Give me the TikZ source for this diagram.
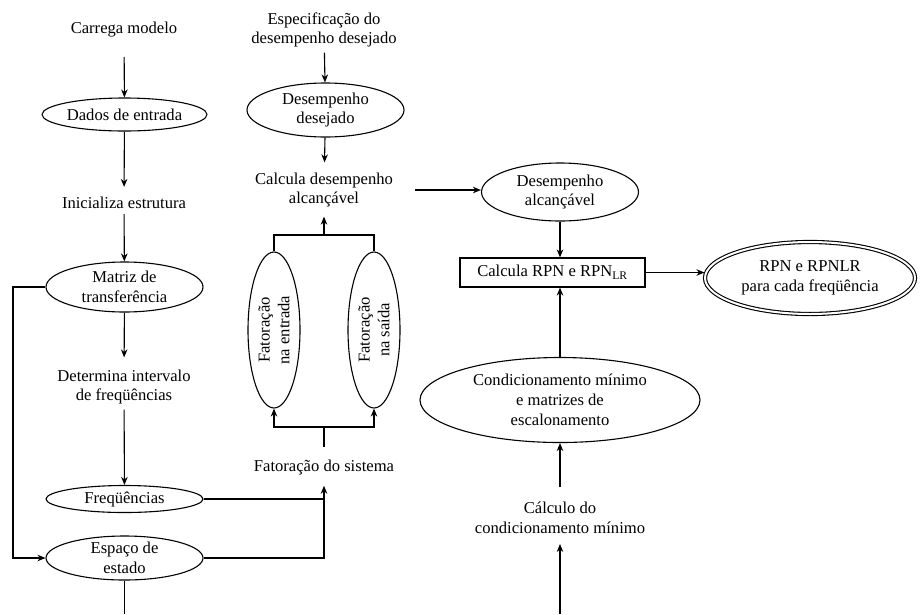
\documentclass[tikz,border=0pt]{standalone}
\usepackage{fontspec}
\setmainfont{Liberation Serif}
\usetikzlibrary{shapes.geometric,arrows.meta}
\begin{document}
\begin{tikzpicture}[x=1pt,y=-1pt,
  every node/.style={font=\fontsize{16.6}{19.8}\selectfont, align=center},
  lbl/.style={inner sep=5pt},
  oval/.style={draw, ellipse, inner sep=0pt, line width=1.1pt},
  rbox/.style={draw, rectangle, line width=1.1pt, minimum width=185pt, minimum height=29pt, inner sep=0pt},
  flow/.style={line width=1.1pt, -{Stealth[length=8pt,width=6.5pt,inset=2.5pt]}},
  wire/.style={line width=1.1pt},
]
\useasboundingbox (0,0) rectangle (920,614);

% left column: model loading and state-space data
\node[lbl] (carrega) at (124,30) {Carrega modelo};
\node[oval, minimum width=165pt, minimum height=33pt] (dados) at (124.5,114.5) {Dados de entrada};
\node[lbl] (inic) at (124,203) {Inicializa estrutura};
\node[oval, minimum width=157pt, minimum height=50pt, inner ysep=-2pt] (matriz) at (124.5,287) {Matriz de\\transferência};
\node[lbl] (determ) at (124,387) {Determina intervalo\\de freqüências};
\node[oval, minimum width=157pt, minimum height=27pt] (freq) at (124.5,499) {Freqüências};
\node[oval, minimum width=157pt, minimum height=44pt, inner ysep=-3pt] (espaco) at (124.5,558) {Espaço de\\estado};
\coordinate (lbus) at (13,287);
\coordinate (lbot) at (124.5,614);

% middle column: desired performance and factorization
\node[lbl] (espec) at (324,30) {Especificação do\\desempenho desejado};
\node[oval, minimum width=157pt, minimum height=54pt] (ddes) at (325.5,110) {Desempenho\\desejado};
\node[lbl] (calc) at (324,190) {Calcula desempenho\\alcançável};
\node[oval, rotate=90, minimum width=156pt, minimum height=52pt] (fe) at (274,330) {Fatoração\\na entrada};
\node[oval, rotate=90, minimum width=156pt, minimum height=52pt] (fs) at (374,330) {Fatoração\\na saída};
\node[lbl] (fsys) at (324,467) {Fatoração do sistema};
\coordinate (btop) at (324,235);
\coordinate (bbot) at (324,427);

% right column: RPN computation
\node[oval, minimum width=157pt, minimum height=58pt] (dalc) at (560,192) {Desempenho\\alcançável};
\node[rbox] (rpnbox) at (552.5,272.5) {Calcula RPN e RPN\textsubscript{LR}};
\node[oval, double, double distance=2pt, minimum width=210pt, minimum height=72pt] (rpn) at (810,278) {RPN e RPNLR\\para cada freqüência};
\node[oval, minimum width=280pt, minimum height=85pt] (cond) at (560,400) {Condicionamento mínimo\\e matrizes de\\escalonamento};
\node[lbl] (calcm) at (560,518) {Cálculo do\\condicionamento mínimo};
\coordinate (rbot) at (560,614);

% left column connectors
\draw[flow, shorten <=14pt] (carrega) -- (dados);
\draw[flow, shorten >=5pt] (dados) -- (inic);
\draw[flow] (inic) -- (matriz);
\draw[flow, shorten >=7pt] (matriz) -- (determ);
\draw[flow] (determ) -- (freq);
\draw[flow] (matriz.west) -- (lbus) |- (espaco.west);
\draw[wire] (espaco.south) -- (lbot);
\draw[wire] (espaco.east) -| (freq.east -| fsys.south);
\draw[flow, shorten >=6pt] (freq.east) -| (fsys.south);

% middle column connectors
\draw[flow] (espec) -- (ddes);
\draw[flow, shorten >=5pt] (ddes) -- (calc);
\draw[wire] (fe.east) -- (fe.east |- btop) -- (fs.east |- btop) -- (fs.east);
\draw[flow, shorten >=4pt] (btop) -- (calc);
\draw[wire, shorten <=7pt] (fsys) -- (bbot);
\draw[flow] (bbot) -| (fe.west);
\draw[flow] (bbot) -| (fs.west);
\draw[flow, shorten <=17pt] (calc.east) -- (calc.east -| dalc.west);

% right column connectors
\draw[flow] (dalc) -- (dalc |- rpnbox.north);
\draw[flow] (rpnbox.east) -- (rpnbox.east -| rpn.west);
\draw[flow] (cond) -- (cond |- rpnbox.south);
\draw[flow, shorten <=10pt] (calcm) -- (cond);
\draw[flow, shorten >=5pt] (rbot) -- (calcm);
\end{tikzpicture}
\end{document}
